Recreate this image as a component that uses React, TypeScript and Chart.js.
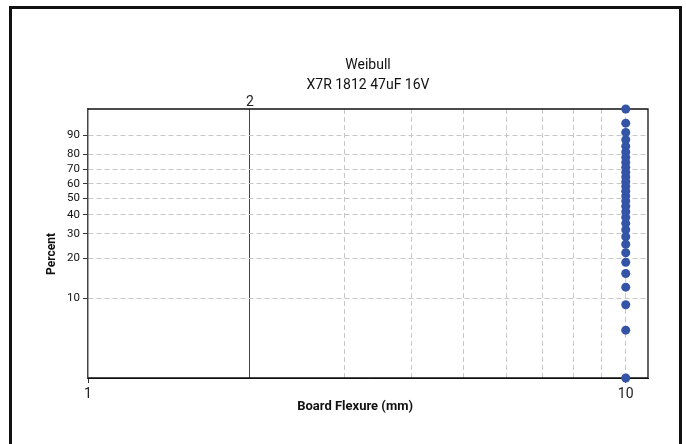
import React, { useEffect, useRef } from 'react';
import { Chart, registerables, Scale } from 'chart.js';

Chart.register(...registerables);

// ---- data ----
const TITLE_LINES = ['Weibull', 'X7R 1812 47uF 16V'];
const X_TITLE = 'Board Flexure (mm)';
const Y_TITLE = 'Percent';
const FLEXURE = [10, 10, 10, 10, 10, 10, 10, 10, 10, 10, 10, 10, 10, 10, 10, 10, 10, 10, 10, 10, 10, 10, 10, 10, 10, 10, 10, 10, 10, 10];
const PERCENT = [
  2.303, 5.592, 8.882, 12.171, 15.461, 18.75, 22.039, 25.329, 28.618, 31.908,
  35.197, 38.487, 41.776, 45.066, 48.355, 51.645, 54.934, 58.224, 61.513, 64.803,
  68.092, 71.382, 74.671, 77.961, 81.25, 84.539, 87.829, 91.118, 94.408, 97.697,
];
const X_MIN = 1;
const X_MAX = 11;
const X_GRID = [1, 2, 3, 4, 5, 6, 7, 8, 9, 10];
const X_LABELED = [1, 10];
const REF_X = [2];
const Y_TICKS = [10, 20, 30, 40, 50, 60, 70, 80, 90];

const weib = (p: number) => Math.log(-Math.log(1 - p / 100));
const invWeib = (w: number) => 100 * (1 - Math.exp(-Math.exp(w)));

class WeibullScale extends Scale {
  static id = 'weibull';
  static defaults = {};
  _w0: number = 0;
  _wr: number = 1;
  determineDataLimits() {
    const { min, max } = (this as any).getMinMax(false);
    const o: any = this.options;
    (this as any).min = typeof o.min === 'number' ? o.min : min;
    (this as any).max = typeof o.max === 'number' ? o.max : max;
  }
  buildTicks() {
    return Y_TICKS.map((v) => ({ value: v }));
  }
  configure() {
    super.configure();
    this._w0 = weib((this as any).min);
    this._wr = weib((this as any).max) - this._w0;
  }
  getPixelForValue(v: number) {
    return this.getPixelForDecimal((weib(v) - this._w0) / this._wr);
  }
  getValueForPixel(px: number) {
    return invWeib(this._w0 + this.getDecimalForPixel(px) * this._wr);
  }
  getLabelForValue(v: number) {
    return String(v);
  }
}
Chart.register(WeibullScale as any);

const boxPlugin = {
  id: 'plotBox',
  beforeDatasetsDraw(chart: any) {
    const { ctx, chartArea } = chart;
    const { left, top, right, bottom } = chartArea;
    ctx.save();
    ctx.strokeStyle = '#111';
    ctx.lineWidth = 1.3;
    ctx.beginPath();
    ctx.moveTo(left, top);
    ctx.lineTo(right, top);
    ctx.lineTo(right, bottom);
    ctx.lineTo(left, bottom);
    ctx.stroke();
    ctx.restore();
  },
};

export default function App() {
  const ref = useRef<HTMLCanvasElement | null>(null);
  useEffect(() => {
    if (!ref.current) return;
    Chart.defaults.font.family = 'Roboto';
    const chart = new Chart(ref.current, {
      type: 'scatter',
      data: {
        datasets: [
          {
            data: FLEXURE.map((x, i) => ({ x, y: PERCENT[i] })),
            xAxisID: 'x',
            yAxisID: 'y',
            pointRadius: 4.5,
            pointHoverRadius: 4.5,
            backgroundColor: '#3454a8',
            borderWidth: 0,
            clip: false as any,
          },
        ],
      },
      options: {
        animation: false,
        responsive: false,
        devicePixelRatio: 1,
        layout: { padding: { left: 0, right: 31, top: 0, bottom: 28 } },
        plugins: {
          legend: { display: false },
          tooltip: { enabled: false },
          title: {
            display: true,
            text: TITLE_LINES,
            fullSize: false,
            color: '#111',
            font: { family: 'Roboto', size: 14, weight: 'normal', lineHeight: 20 / 14 },
            padding: { top: 46, bottom: -10 },
          },
        },
        scales: {
          x: {
            type: 'logarithmic',
            position: 'bottom',
            min: X_MIN,
            max: X_MAX,
            afterBuildTicks: (s: any) => {
              s.ticks = X_GRID.map((v) => ({ value: v }));
            },
            afterFit: (s: any) => {
              s.height = 40;
            },
            ticks: {
              autoSkip: false,
              maxRotation: 0,
              padding: 3.5,
              color: '#222',
              font: { family: 'Roboto', size: 14 },
              callback: (v: any) => (X_LABELED.includes(Number(v)) ? String(v) : ''),
            },
            grid: {
              color: (c: any) =>
                c.tick && (c.tick.value === X_MIN || REF_X.includes(c.tick.value)) ? 'rgba(0,0,0,0)' : '#c8c8c8',
              lineWidth: 1,
              tickLength: 5,
              tickColor: (c: any) => (c.tick && X_LABELED.includes(c.tick.value) ? '#333' : 'rgba(0,0,0,0)'),
            },
            border: { display: true, color: '#111', width: 1, dash: [5, 3] },
            title: {
              display: true,
              text: X_TITLE + '        ',
              color: '#111',
              font: { family: 'Roboto', size: 13, weight: 'bold' },
              padding: { top: 0, bottom: 3 },
            },
          } as any,
          x2: {
            type: 'logarithmic',
            position: 'top',
            min: X_MIN,
            max: X_MAX,
            afterBuildTicks: (s: any) => {
              s.ticks = REF_X.map((v) => ({ value: v }));
            },
            afterFit: (s: any) => {
              s.height = 24;
            },
            ticks: {
              autoSkip: false,
              maxRotation: 0,
              padding: -2,
              color: '#222',
              font: { family: 'Roboto', size: 14 },
              callback: (v: any) => String(v),
            },
            grid: { drawOnChartArea: true, drawTicks: false, color: '#444', lineWidth: 1 },
            border: { display: false },
          } as any,
          y: {
            type: 'weibull',
            position: 'left',
            min: PERCENT[0],
            max: PERCENT[PERCENT.length - 1],
            afterFit: (s: any) => {
              s.width = 76;
            },
            ticks: {
              padding: 3,
              color: '#111',
              font: { family: 'Roboto', size: 11.5 },
            },
            grid: { color: '#c8c8c8', lineWidth: 1, tickLength: 5, tickColor: '#333' },
            border: { display: true, color: '#444', width: 1.5, dash: [5, 3] },
            title: {
              display: true,
              text: Y_TITLE + '       ',
              color: '#111',
              font: { family: 'Roboto', size: 12, weight: 'bold' },
              padding: { top: 33, bottom: 0 },
            },
          } as any,
        },
      },
      plugins: [boxPlugin],
    } as any);
    return () => chart.destroy();
  }, []);

  return (
    <div
      style={{
        position: 'fixed',
        top: 6,
        left: 9,
        width: 667,
        height: 446,
        border: '3px solid #111',
        boxSizing: 'content-box',
        background: '#fff',
      }}
    >
      <canvas ref={ref} width={667} height={437} style={{ display: 'block', width: 667, height: 437 }} />
    </div>
  );
}
